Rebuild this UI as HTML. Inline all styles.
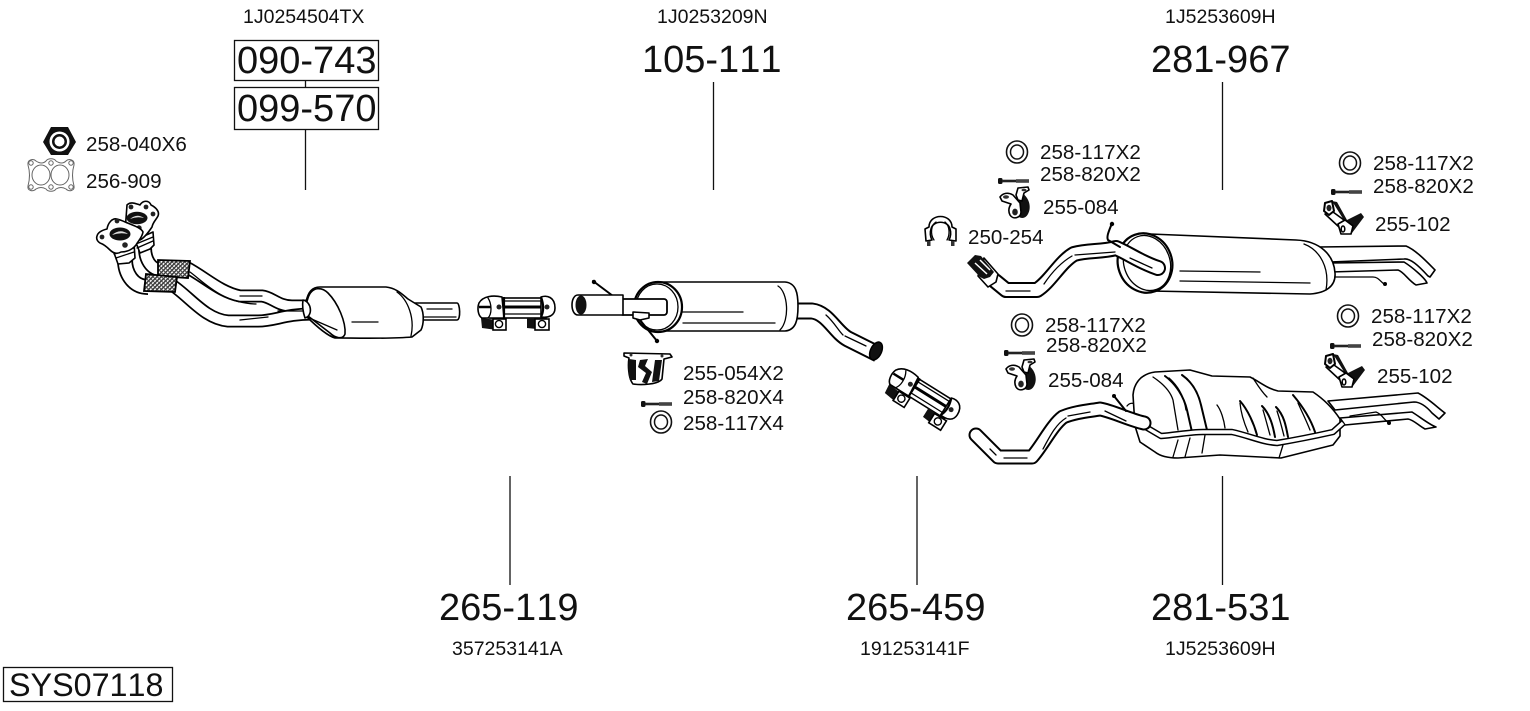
<!DOCTYPE html>
<html><head><meta charset="utf-8"><title>SYS07118</title>
<style>
html,body{margin:0;padding:0;background:#fff}
svg{display:block}
text{font-family:"Liberation Sans",sans-serif;fill:#111;font-kerning:none;font-feature-settings:"kern" 0}
.b{font-size:38px}.m{font-size:19.5px}.s{font-size:20.6px}
.o{fill:#fff;stroke:#000;stroke-width:1.6;stroke-linejoin:round;stroke-linecap:round}
.l{fill:none;stroke:#000;stroke-width:1.3;stroke-linecap:round;stroke-linejoin:round}
.h{fill:none;stroke:#000;stroke-width:2;stroke-linecap:round;stroke-linejoin:round}
.k{fill:#111;stroke:none}
.tb{fill:none;stroke:#000;stroke-linejoin:round}
.tw{fill:none;stroke:#fff;stroke-linejoin:round}
</style></head><body>
<svg width="1530" height="711" viewBox="0 0 1530 711" xmlns="http://www.w3.org/2000/svg">
<defs>
<pattern id="br" width="3" height="3" patternUnits="userSpaceOnUse" patternTransform="rotate(45)"><rect width="3" height="3" fill="#fff"/><rect width="1.400" height="3" fill="#333"/><rect width="3" height="1" fill="#444"/></pattern>
<g id="washer"><ellipse cx="0" cy="0" rx="10.500" ry="11" fill="#fff" stroke="#111" stroke-width="1.600"/><ellipse cx="0" cy="0" rx="6.500" ry="7" fill="#fff" stroke="#111" stroke-width="1.500"/></g>
<g id="bolt"><rect x="0" y="-3" width="4.500" height="6" rx="1.500" fill="#111"/><rect x="4" y="-1.300" width="15" height="2.600" fill="#222"/><rect x="18" y="-1.800" width="13" height="3.600" fill="#444"/></g>
<g id="h84">
<path class="k" d="M21 5C30 9 33 20 29 27C27 31 23 32 20 30Z"/>
<path class="o" d="M1 10C4 6 9 5 14 8L21 16L22 25C22 31 14 33 11 28C9 24 10 20 12 17L3 14Z"/>
<path class="o" d="M17 8L19 1L29 0L30 3L25 6L23 14L19 13Z"/>
<ellipse cx="7" cy="10" rx="3" ry="1.700" fill="#333"/><ellipse cx="16" cy="25" rx="2.800" ry="3.400" fill="#222"/><ellipse cx="25" cy="3" rx="2.500" ry="1.300" fill="#333"/>
</g>
<g id="h102">
<path class="k" d="M9 1L14 2L24 20L38 13L41 17L29 33L22 22Z"/>
<path class="o" d="M2 14L10 12L21 20L16 27Z"/>
<path class="o" d="M15 24L22 20L30 26L28 34L18 34Z"/>
<path d="M2 3L9 1L11 11L6 15L1 11Z" fill="#fff" stroke="#000" stroke-width="2" stroke-linejoin="round"/>
<ellipse cx="6" cy="8" rx="2.500" ry="3.200" fill="#222"/>
<ellipse cx="20" cy="29" rx="1.800" ry="3" fill="#fff" stroke="#000" stroke-width="1.500"/>
</g>
<g id="clamp">
<rect x="-27" y="-14" width="56" height="20" fill="#fff" stroke="#000" stroke-width="1.600"/>
<path d="M-25 -5H25" stroke="#000" stroke-width="3"/><path class="l" d="M-22 -11H23M-22 2H23"/>
<path d="M-36 6L-35 16L-20 18V8Z" class="k"/><path d="M10 6V16L29 18V6Z" class="k"/>
<path class="o" d="M-38 -9C-34 -16 -24 -17 -15 -15L-13 6H-35C-39 4 -40 -4 -38 -9Z" stroke-width="2"/>
<path class="o" d="M24 -15C30 -17 38 -15 38 -4C38 4 31 6 24 5Z" stroke-width="2"/>
<path d="M-38 -5H-26" stroke="#000" stroke-width="2.500"/><path class="l" d="M-29 -14C-25 -8 -25 2 -29 6"/>
<path d="M-13 -15V6M24 -15C27 -7 27 -1 24 5" stroke="#000" stroke-width="2.200" fill="none"/>
<circle cx="-18" cy="-5" r="2.500" fill="#222"/><circle cx="30" cy="-5" r="2.500" fill="#222"/>
<rect x="-24" y="7" width="13" height="11" fill="#fff" stroke="#000" stroke-width="1.600"/><circle cx="-18" cy="12" r="3.600" fill="#fff" stroke="#000" stroke-width="1.400"/>
<rect x="18" y="7" width="14" height="11" fill="#fff" stroke="#000" stroke-width="1.600"/><circle cx="25" cy="12" r="3.600" fill="#fff" stroke="#000" stroke-width="1.400"/>
</g>
</defs>

<!-- leader lines and boxes -->
<g stroke="#111" stroke-width="1.300" fill="none">
<path d="M305.500 80V87M305.500 130V190M713.500 82V190M1222.500 82V190M510 476V585M917 476V585M1222.500 476V585"/>
<rect x="234.500" y="40.500" width="144" height="40"/>
<rect x="234.500" y="87.500" width="144" height="42"/>
<rect x="3.500" y="667.500" width="169" height="34"/>
</g>

<text class="m" x="243" y="23">1J0254504TX</text>
<text class="m" x="657" y="23">1J0253209N</text>
<text class="m" x="1165" y="23">1J5253609H</text>
<text class="b" x="237" y="73">090-743</text>
<text class="b" x="237" y="121">099-570</text>
<text class="b" x="642" y="72">105-111</text>
<text class="b" x="1151" y="72">281-967</text>
<text class="b" x="439" y="620">265-119</text>
<text class="b" x="846" y="620">265-459</text>
<text class="b" x="1151" y="620">281-531</text>
<text class="m" x="452" y="655">357253141A</text>
<text class="m" x="860" y="655">191253141F</text>
<text class="m" x="1165" y="655">1J5253609H</text>
<text x="9" y="696" style="font-size:32.300px">SYS07118</text>

<text class="s" x="86" y="151">258-040X6</text>
<text class="s" x="86" y="188">256-909</text>
<text class="s" x="683" y="380">255-054X2</text>
<text class="s" x="683" y="404">258-820X4</text>
<text class="s" x="683" y="430">258-117X4</text>
<text class="s" x="1040" y="159">258-117X2</text>
<text class="s" x="1040" y="181">258-820X2</text>
<text class="s" x="1043" y="214">255-084</text>
<text class="s" x="968" y="244">250-254</text>
<text class="s" x="1373" y="170">258-117X2</text>
<text class="s" x="1373" y="193">258-820X2</text>
<text class="s" x="1375" y="231">255-102</text>
<text class="s" x="1371" y="323">258-117X2</text>
<text class="s" x="1372" y="346">258-820X2</text>
<text class="s" x="1377" y="383">255-102</text>
<text class="s" x="1045" y="332">258-117X2</text>
<text class="s" x="1046" y="352">258-820X2</text>
<text class="s" x="1048" y="387">255-084</text>

<!-- nut 258-040 -->
<path d="M43 142L51 127H68L76 142L68 155H51Z" fill="#111"/>
<circle cx="59.500" cy="141.500" r="10" fill="#fff"/><circle cx="59.500" cy="141.500" r="7.500" fill="#111"/><circle cx="59.500" cy="141.500" r="5" fill="#fff"/>
<!-- gasket 256-909 -->
<g fill="#fff" stroke="#666" stroke-width="1">
<path d="M28 165C27 160 33 158 36 161Q42 165 46 161C48 158 54 158 56 161Q62 165 66 161C69 158 75 160 74 165Q71 175 74 186C75 191 69 192 66 189Q61 186 56 189C54 192 48 192 46 189Q41 186 36 189C33 192 27 191 28 186Q31 175 28 165Z"/>
<ellipse cx="41" cy="175" rx="9" ry="10"/><ellipse cx="60" cy="175" rx="9" ry="10"/>
<circle cx="31" cy="163" r="2.200"/><circle cx="51" cy="163" r="2.200"/><circle cx="71" cy="163" r="2.200"/><circle cx="31" cy="187" r="2.200"/><circle cx="51" cy="187" r="2.200"/><circle cx="71" cy="187" r="2.200"/>
</g>

<!-- downpipe -->
<g>
<path class="tb" stroke-width="13" d="M186 267C205 277 220 292 240 296H262C272 297 278 306 292 306H312"/>
<path class="tw" stroke-width="9.500" d="M186 267C205 277 220 292 240 296H262C272 297 278 306 292 306H312"/>
<path class="tb" stroke-width="13" d="M172 285C190 297 205 319 228 321H258C275 321 285 314 312 314"/>
<path class="tw" stroke-width="9.500" d="M172 285C190 297 205 319 228 321H258C275 321 285 314 312 314"/>
<path class="l" d="M190 272C205 283 222 303 256 304M240 320L268 317M240 296H262M278 311H304"/>
<path class="tb" stroke-width="14" d="M145 248C145 258 150 270 162 270"/>
<path class="tw" stroke-width="10.500" d="M145 248C145 258 150 270 162 270"/>
<path class="tb" stroke-width="16" d="M125 260C125 272 132 287 148 287"/>
<path class="tw" stroke-width="12.500" d="M125 260C125 272 132 287 148 287"/>
<path d="M158 260L190 261L188 278L158 276Z" fill="url(#br)" stroke="#000" stroke-width="1.800"/>
<path d="M146 274L177 277L175 292L144 291Z" fill="url(#br)" stroke="#000" stroke-width="1.800"/>
<!-- back collar + flange -->
<path class="o" d="M135 240L153 232L154 245L150 249L140 253Z" stroke-width="1.800"/>
<path class="l" d="M136 244L153 237M137 248L153 241"/>
<path class="o" stroke-width="2.400" d="M127 205C131 201 137 204 140 205C143 200 149 200 151 205C155 207 160 211 158 216C156 220 153 222 152 227C148 233 144 238 140 240L125 232Z"/>
<ellipse cx="137" cy="218" rx="10.500" ry="6.200" fill="#111"/><path d="M130 219Q137 213 144 218Q137 216 130 219Z" fill="#ddd"/>
<circle cx="131" cy="207" r="2.400" fill="#222"/><circle cx="146" cy="207" r="2.400" fill="#222"/><circle cx="153" cy="214" r="2.400" fill="#222"/><circle cx="139" cy="228" r="2.700" fill="#222"/>
<!-- front collar + flange -->
<path class="o" d="M113 250L134 243L135 258L129 263L118 264Z" stroke-width="1.800"/>
<path class="l" d="M114 254L134 248M116 258L134 252"/>
<path class="o" stroke-width="2.400" d="M97 236C98 232 103 230 107 229C108 223 112 218 117 219C121 220 125 222 130 224C135 226 141 228 143 232C142 238 138 241 136 245C132 250 126 252 121 252C116 255 112 252 110 250C106 246 103 244 100 243C97 241 96 239 97 236Z"/>
<ellipse cx="120" cy="234" rx="10.500" ry="6.500" fill="#111"/><path d="M112 235Q120 228 128 234Q120 232 112 235Z" fill="#ddd"/>
<circle cx="102" cy="237" r="2.400" fill="#222"/><circle cx="117" cy="221" r="2.400" fill="#222"/><circle cx="125" cy="245" r="2.800" fill="#222"/>
<!-- catalyst -->
<path class="o" d="M415 303H457C460 303 461 320 457 320H415Z" stroke-width="2"/>
<path class="l" d="M427 309H452M424 317H456"/>
<path class="o" stroke-width="2.200" d="M306 302C308 292 312 287 320 287H386C396 288 402 294 408 299L421 307C424 313 424 324 421 330L412 337C390 339 355 338 335 338C325 335 312 322 306 316C304 312 305 306 306 302Z"/>
<path class="o" stroke-width="1.800" d="M308 298C312 286 322 287 328 293C338 303 346 322 345 334C343 340 335 338 330 333L308 316C305 310 306 304 308 298Z"/>
<path class="l" d="M397 292C408 300 415 318 411 336M307 317L337 330M352 322H378"/>
<path class="o" d="M303 300C312 302 313 316 305 318C303 312 302 306 303 300Z"/>
</g>

<use href="#clamp" transform="translate(517,312)"/>

<!-- middle silencer 105-111 -->
<g>
<path class="tb" stroke-width="17" d="M785 311H812C828 313 835 332 848 339L878 354"/>
<path class="tw" stroke-width="13" d="M785 311H812C828 313 835 332 848 339L878 354"/>
<path class="l" d="M826 315C834 322 838 330 843 335M845 336L866 346"/>
<ellipse cx="876" cy="351" rx="5.500" ry="9.500" transform="rotate(25 876 351)" fill="#111" stroke="#000" stroke-width="1.500"/>
<path class="o" stroke-width="2.200" d="M658 282H785C796 283 798 293 798 306C798 320 796 330 785 331H658Z"/>
<path class="l" d="M680 312H743M683 323H775M778 286C788 292 790 320 780 330"/>
<ellipse cx="658" cy="307" rx="24" ry="25" fill="#fff" stroke="#000" stroke-width="2.200"/>
<ellipse cx="657" cy="307" rx="21" ry="23" fill="#fff" stroke="#000" stroke-width="1.300"/>
<path class="h" d="M593 281L613 296" stroke-width="1.800"/><circle cx="594" cy="282" r="2.200" fill="#000"/>
<path d="M640 320L657 341" class="h" stroke-width="1.800"/><circle cx="657" cy="341" r="2.200" fill="#000"/>
<rect x="620" y="299" width="47" height="16" rx="3" fill="#fff" stroke="#000" stroke-width="1.800"/>
<path class="o" d="M578 295H623V315H578C570 315 570 295 578 295Z" stroke-width="2"/>
<ellipse cx="581" cy="305" rx="5.500" ry="9.500" fill="#111"/>
<path class="o" d="M633 312L649 313V318L640 320L633 318Z"/>
</g>

<!-- hanger 255-054 -->
<path class="o" d="M624 353L670 354L672 357L664 359L662 379C658 385 640 385 633 384C628 378 628 364 629 358L624 356Z"/>
<path class="k" d="M629 359L636 360L636 380L630 380C628 374 628 365 629 359Z"/>
<path class="k" d="M640 360L648 359L645 366L652 372L647 384L642 382L646 373L638 367ZM655 360L662 360L659 381L652 382Z"/>
<circle cx="631" cy="355" r="1.500" fill="#333"/><circle cx="662" cy="356" r="1.500" fill="#333"/>
<use href="#bolt" transform="translate(641,404)"/>
<use href="#washer" transform="translate(661,422)"/>

<!-- upper right small parts -->
<use href="#washer" transform="translate(1017,152)"/>
<use href="#bolt" transform="translate(998,181)"/>
<use href="#h84" transform="translate(999,187)"/>
<use href="#washer" transform="translate(1350,163)"/>
<use href="#bolt" transform="translate(1331,192)"/>
<use href="#h102" transform="translate(1323,200)"/>
<!-- clamp 250-254 -->
<g>
<path class="o" d="M926 241L925 229L929 227C929 213 952 213 952 227L956 229V241L949 240C951 236 951 232 950 229C948 220 933 220 931 229C930 232 930 236 932 240Z" stroke-width="1.200"/>
<path class="l" d="M934 240C930 234 931 225 936 222M947 240C950 235 950 226 945 222" stroke-width="1"/>
<rect x="927" y="241" width="3.500" height="5" fill="#333"/><rect x="951" y="241" width="3.500" height="5" fill="#333"/>
</g>

<!-- silencer 281-967 -->
<g>
<path class="o" stroke-width="1.800" d="M1318 247L1406 246C1416 250 1428 263 1435 270L1430 277L1428 276C1418 265 1410 258 1404 259L1330 262Z"/>
<path class="o" stroke-width="1.800" d="M1330 263L1404 262C1412 267 1425 278 1427 283L1416 285C1408 280 1404 272 1398 270L1330 272Z"/>
<path class="l" d="M1335 277H1373C1378 277 1380 281 1384 284"/>
<circle cx="1385" cy="284" r="2" fill="#000"/>
<path class="o" stroke-width="2.200" d="M1150 234L1296 240C1320 241 1334 255 1335 273C1336 286 1326 293 1310 294L1150 291Z"/>
<path class="l" d="M1180 271L1260 272M1180 281L1310 283M1304 244C1320 250 1330 268 1326 290"/>
<ellipse cx="1145" cy="263" rx="27" ry="30" transform="rotate(-20 1145 263)" fill="#fff" stroke="#000" stroke-width="2.200"/>
<ellipse cx="1147" cy="263" rx="23" ry="28" transform="rotate(-20 1147 263)" fill="none" stroke="#000" stroke-width="1.300"/>
<path class="tb" stroke-width="16" stroke-linecap="round" d="M995 281L1006 290H1037C1050 282 1060 262 1074 254C1088 250 1102 252 1116 248C1130 254 1140 262 1158 268"/>
<path class="tw" stroke-width="12" stroke-linecap="round" d="M995 281L1006 290H1037C1050 282 1060 262 1074 254C1088 250 1102 252 1116 248C1130 254 1140 262 1158 268"/>
<path class="l" d="M1006 291H1030M1044 284C1050 275 1060 263 1072 256M1075 255L1115 252M1130 258L1152 268"/>
<path class="h" d="M1112 223C1110 229 1106 236 1108 240L1120 247"/>
<circle cx="1112" cy="224" r="2.200" fill="#000"/>
<path class="o" stroke-width="2" d="M984 258L998 274L996 282L988 287L978 276Z"/>
<path class="k" d="M967 263L975 255L981 256L994 272L990 277L984 279L980 277Z"/>
<path d="M975 263L987 274M980 260L990 270" stroke="#fff" stroke-width="1.500" fill="none"/>
</g>

<!-- lower-right small parts -->
<use href="#washer" transform="translate(1022,325)"/>
<use href="#bolt" transform="translate(1004,353)"/>
<use href="#h84" transform="translate(1005,359)"/>
<use href="#washer" transform="translate(1348,316)"/>
<use href="#bolt" transform="translate(1330,346)"/>
<use href="#h102" transform="translate(1324,353)"/>

<use href="#clamp" transform="translate(923,398) rotate(32)"/>

<!-- silencer 281-531 -->
<g>
<path class="o" stroke-width="1.800" d="M1328 401L1418 393C1428 398 1438 408 1445 413L1439 419L1432 413C1426 406 1420 402 1414 402L1335 410Z"/>
<path class="o" stroke-width="1.800" d="M1340 418L1412 412C1420 417 1430 425 1436 427L1425 429C1419 426 1414 420 1408 419L1345 425Z"/>
<path class="l" d="M1350 416L1376 412C1382 414 1384 420 1389 423"/>
<circle cx="1389" cy="423" r="2" fill="#000"/>
<path class="l" d="M1127 406C1130 402 1134 403 1137 405"/>
<path class="o" stroke-width="2.200" d="M1133 395C1134 383 1141 374 1155 372L1190 370L1212 376L1250 377C1260 382 1268 389 1278 391L1313 392C1325 400 1334 410 1340 419V436L1333 445L1281 458L1220 455L1178 458C1168 458 1160 456 1155 452L1140 442L1135 426Z"/>
<path class="h" d="M1165 376C1176 384 1184 397 1187 410L1192 432M1182 375C1192 382 1198 392 1201 405L1207 430" stroke-width="1.800"/>
<path class="l" d="M1153 377C1162 383 1170 390 1173 400L1178 430M1169 378C1178 386 1184 396 1186 410M1217 405C1221 410 1224 420 1225 428M1253 378C1258 386 1262 392 1267 397"/>
<path class="h" d="M1240 401C1248 410 1254 424 1257 435M1262 406C1270 414 1273 426 1275 437M1276 407C1284 415 1286 426 1288 437M1293 395C1304 408 1311 420 1315 432" stroke-width="1.800"/>
<path class="l" d="M1240 403C1241 415 1245 425 1248 432M1263 410C1266 420 1268 428 1270 435M1277 411C1280 420 1282 428 1284 436M1298 403C1302 412 1306 420 1310 430"/>
<path class="l" d="M1178 440L1173 457M1190 438L1185 457M1205 435L1202 453M1283 445L1279 458"/>
<path class="tb" stroke-width="6.500" d="M1144 426L1161 436C1175 435 1190 432 1203 432H1232C1250 436 1262 442 1277 443C1295 440 1315 436 1333 432L1343 423"/>
<path class="tw" stroke-width="3.500" d="M1144 426L1161 436C1175 435 1190 432 1203 432H1232C1250 436 1262 442 1277 443C1295 440 1315 436 1333 432L1343 423"/>
<path class="tb" stroke-width="15" stroke-linecap="round" d="M976 435L998 457H1032C1042 446 1052 425 1063 417C1075 412 1088 411 1100 409C1112 411 1130 420 1144 423"/>
<path class="tw" stroke-width="11" stroke-linecap="round" d="M976 435L998 457H1032C1042 446 1052 425 1063 417C1075 412 1088 411 1100 409C1112 411 1130 420 1144 423"/>
<path class="l" d="M990 449L996 455M1004 458H1027M1043 449C1050 436 1056 424 1066 418M1068 416L1090 412M1105 411L1126 421"/>
<path class="h" d="M1114 396L1126 411" stroke-width="1.800"/><circle cx="1114" cy="396" r="2" fill="#000"/>
</g>
</svg>
</body></html>
